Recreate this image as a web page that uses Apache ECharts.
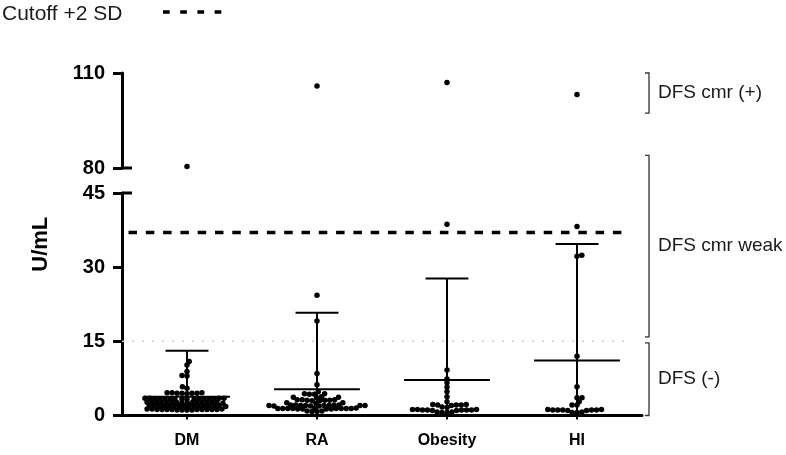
<!DOCTYPE html>
<html><head><meta charset="utf-8">
<script src="https://cdn.jsdelivr.net/npm/echarts@6/dist/echarts.min.js"></script>
<style>html,body{margin:0;padding:0;background:#fff}#c{width:786px;height:455px}</style>
</head><body><div id="c"></div>
<script>
// ---------- data ----------
const categories = ['DM', 'RA', 'Obesity', 'HI'];
const lowerTicks = [0, 15, 30, 45];
const upperTicks = [80, 110];
const dmValues = [80.5, 10.9, 10.2, 8.9, 8.1, 8.0, 5.8, 5.5,
  4.6, 4.5, 4.5, 4.6, 4.4, 4.5, 4.6, 4.5,
  3.4, 3.3, 3.5, 3.4, 3.4, 3.3, 3.5, 3.4, 3.3, 3.4, 3.5, 3.4, 3.3, 3.4, 3.4, 3.5,
  2.6, 2.7, 2.6, 2.5, 2.6, 2.7, 2.6, 2.5, 2.6, 2.6, 2.7, 2.5, 2.6, 2.6, 2.7, 2.6,
  1.9, 1.8, 2.0, 1.9, 1.9, 1.8, 2.0, 1.9, 1.9, 1.8, 1.9, 2.0, 1.9, 1.9, 1.8, 1.9,
  1.2, 1.1, 1.3, 1.2, 1.2, 1.1, 1.2, 1.3, 1.2, 1.2, 1.1, 1.2, 1.3, 1.2, 1.2, 1.1];
const raValues = [105.9, 24.3, 19.1, 8.5, 6.2, 4.8,
  4.4, 4.3, 4.4, 4.3,
  3.7, 3.6, 3.7, 3.8,
  3.1, 3.2, 3.0, 3.1, 3.2, 3.1, 3.0, 3.2,
  2.6, 2.5, 2.6,
  2.0, 2.1, 1.9, 2.0, 2.0, 2.1, 1.9, 2.0, 2.0, 2.1, 1.9, 2.0, 2.0, 2.1,
  1.4, 1.3, 1.4, 1.5, 1.4, 1.3, 1.4, 1.4, 1.5, 1.3, 1.4, 1.4, 1.3, 1.4,
  0.9, 0.8, 0.9, 0.8];
const obesityValues = [107.0, 38.7, 9.2, 7.4, 6.6, 5.7, 4.8, 3.8, 2.8,
  2.1, 2.2, 2.1, 2.0, 2.2, 2.1,
  1.7, 1.6,
  1.1, 1.2, 1.1, 1.0, 1.1, 1.2, 1.1, 1.0, 1.1, 1.2,
  0.6, 0.7, 0.6, 0.7];
const hiValues = [103.2, 38.2, 32.4, 32.2, 12.0, 5.8, 3.6, 3.6, 2.8, 2.1, 2.1,
  1.1, 1.2, 1.1, 1.0, 1.1, 1.2, 1.1, 1.0, 1.1,
  0.6, 0.6, 0.7];
const groupValues = [dmValues, raValues, obesityValues, hiValues];
const medians = [3.8, 5.3, 7.2, 11.1];
const rangeMin = [0.6, 0.6, 0.5, 0.5];
const rangeMax = [13.1, 20.8, 27.7, 34.7];
const cutoffValue = 37;
const dfsNegLimit = 15;
const breakLow = 45;
const breakHigh = 80;
const legendLabel = 'Cutoff +2 SD';
const yAxisName = 'U/mL';
const bracketLabels = ['DFS cmr (+)', 'DFS cmr weak', 'DFS (-)'];
const bracketTop = [[0, 110], [0, 84], [1, 14.7]];     // [panel (0 upper, 1 lower), value]
const bracketBottom = [[0, 97.3], [1, 15.9], [1, 0]];

// ---------- chart ----------
const FONT = '"Liberation Sans", Arial, sans-serif';
const chart = echarts.init(document.getElementById('c'), null, {renderer: 'canvas', width: 786, height: 455});
const axisColor = '#000';
const yAxisCommon = {
  axisLine: {show: true, onZero: false, lineStyle: {color: axisColor, width: 3}},
  splitLine: {show: false},
  axisLabel: {color: '#000', fontFamily: FONT, fontWeight: 'bold', fontSize: 20, margin: 17}
};
const baseOption = {
  animation: false,
  grid: [
    {left: 122, right: 144, top: 73, height: 95},
    {left: 122, right: 144, top: 193, height: 222.5}
  ],
  xAxis: [
    {type: 'value', gridIndex: 0, min: -0.5, max: 3.5, show: false},
    {type: 'value', gridIndex: 1, min: -0.5, max: 3.5, show: false},
    {type: 'category', gridIndex: 1, data: categories, position: 'bottom',
      axisLine: {show: true, onZero: false, lineStyle: {color: axisColor, width: 3}},
      axisTick: {show: true, alignWithLabel: true, length: 4, lineStyle: {color: axisColor, width: 2}},
      axisLabel: {color: '#000', fontFamily: FONT, fontWeight: 'bold', fontSize: 16, margin: 17},
      splitLine: {show: false}}
  ],
  yAxis: [
    Object.assign({}, yAxisCommon, {type: 'value', gridIndex: 0, min: 80, max: 110, position: 'left',
      axisTick: {show: true, length: 9, customValues: upperTicks, lineStyle: {color: axisColor, width: 3}},
      axisLabel: Object.assign({}, yAxisCommon.axisLabel, {customValues: upperTicks})}),
    Object.assign({}, yAxisCommon, {type: 'value', gridIndex: 1, min: 0, max: 45, interval: 15, position: 'left',
      axisTick: {show: true, length: 9, lineStyle: {color: axisColor, width: 3}}})
  ],
  series: []
};
chart.setOption(baseOption);

const lowFinder = {xAxisIndex: 1, yAxisIndex: 1};
const upFinder = {xAxisIndex: 0, yAxisIndex: 0};
const xUnit = chart.convertToPixel(lowFinder, [1, 0])[0] - chart.convertToPixel(lowFinder, [0, 0])[0];

// deterministic beeswarm layout in pixel space (rows squashed vertically by k)
function swarmOffsets(pys, d, k) {
  const order = pys.map((y, i) => i).sort((a, b) => pys[b] - pys[a]);
  const placed = [];
  const out = new Array(pys.length).fill(0);
  order.forEach((i, n) => {
    const y = pys[i];
    const cands = [0];
    placed.forEach(p => {
      const dy = (y - p.y) * k;
      if (Math.abs(dy) < d) {
        const dx = Math.sqrt(d * d - dy * dy);
        cands.push(p.x + dx, p.x - dx);
      }
    });
    const pref = n % 2 === 0 ? 1 : -1;
    cands.sort((a, b) => (Math.abs(a) - Math.abs(b)) || (pref * (b - a)));
    let chosen = 0;
    for (const c of cands) {
      let ok = true;
      for (const p of placed) {
        const dx = c - p.x, dy = (y - p.y) * k;
        if (dx * dx + dy * dy < d * d - 0.01) { ok = false; break; }
      }
      if (ok) { chosen = c; break; }
    }
    placed.push({x: chosen, y});
    out[i] = chosen;
  });
  return out;
}

const lowerData = [], upperData = [];
groupValues.forEach((vals, gi) => {
  const low = vals.filter(v => v <= breakLow);
  const high = vals.filter(v => v > breakLow);
  const pys = low.map(v => chart.convertToPixel(lowFinder, [gi, v])[1]);
  const offs = swarmOffsets(pys, 5.0, 1.3);
  low.forEach((v, j) => lowerData.push([gi + offs[j] / xUnit, v]));
  high.forEach(v => upperData.push([gi, v]));
});

const barData = categories.map((c, i) => [i, medians[i], rangeMin[i], rangeMax[i]]);
const lineEnd = 3.385;

const pxY = (panel, v) => chart.convertToPixel(panel === 0 ? upFinder : lowFinder, [0, v])[1];
const axisXPx = chart.convertToPixel(lowFinder, [-0.5, 0])[0];
const gridRightPx = chart.convertToPixel(lowFinder, [3.5, 0])[0];
const bx = gridRightPx + 7;
const graphics = [];
// axis-break marks (inner half of the tick at 80 and 45)
[[0, breakHigh], [1, breakLow]].forEach(([panel, v]) => {
  const y = pxY(panel, v);
  graphics.push({type: 'line', shape: {x1: axisXPx, y1: y, x2: axisXPx + 10, y2: y},
    style: {stroke: axisColor, lineWidth: 3}});
});
bracketLabels.forEach((lab, i) => {
  const y1 = pxY(bracketTop[i][0], bracketTop[i][1]);
  const y2 = pxY(bracketBottom[i][0], bracketBottom[i][1]);
  graphics.push({type: 'polyline', shape: {points: [[bx - 4, y1], [bx, y1], [bx, y2], [bx - 4, y2]]},
    style: {stroke: '#333', lineWidth: 1.3, fill: null}});
  graphics.push({type: 'text', x: bx + 9, y: (y1 + y2) / 2,
    style: {text: lab, fill: '#1a1a1a', font: '19px ' + FONT, textVerticalAlign: 'middle', textAlign: 'left'}});
});
graphics.push({type: 'text', x: 2, y: 14,
  style: {text: legendLabel, fill: '#1a1a1a', font: '21px ' + FONT, textVerticalAlign: 'middle', textAlign: 'left'}});
graphics.push({type: 'line', shape: {x1: 163, y1: 12, x2: 222, y2: 12},
  style: {stroke: '#000', lineWidth: 3.5, lineDash: [6.7, 10.5]}});
const yTopPx = pxY(0, 110), yBotPx = pxY(1, 0);
graphics.push({type: 'text', x: 41, y: (yTopPx + yBotPx) / 2, rotation: Math.PI / 2,
  style: {text: yAxisName, fill: '#000', font: 'bold 22px ' + FONT, textVerticalAlign: 'middle', textAlign: 'center'}});

chart.setOption({
  graphic: graphics,
  series: [
    {type: 'line', xAxisIndex: 1, yAxisIndex: 1, data: [[-0.5, dfsNegLimit], [lineEnd, dfsNegLimit]], symbol: 'none', silent: true,
      lineStyle: {color: '#c9c9c9', width: 1.5, type: [2, 8]}, z: 1},
    {type: 'line', xAxisIndex: 1, yAxisIndex: 1, data: [[-0.45, cutoffValue], [lineEnd, cutoffValue]], symbol: 'none', silent: true,
      lineStyle: {color: '#000', width: 3.5, type: [8.5, 8.8]}, z: 2},
    {type: 'scatter', xAxisIndex: 1, yAxisIndex: 1, data: lowerData, symbol: 'circle', symbolSize: 5.5,
      itemStyle: {color: '#000', opacity: 1}, z: 3},
    {type: 'scatter', xAxisIndex: 0, yAxisIndex: 0, data: upperData, symbol: 'circle', symbolSize: 5.5,
      itemStyle: {color: '#000', opacity: 1}, z: 3},
    {type: 'custom', xAxisIndex: 1, yAxisIndex: 1, data: barData, encode: {x: 0, y: [1, 2, 3]}, z: 4,
      renderItem: function (params, api) {
        const c = api.value(0);
        const pMed = api.coord([c, api.value(1)]);
        const pLo = api.coord([c, api.value(2)]);
        const pHi = api.coord([c, api.value(3)]);
        const w = api.size([1, 0])[0];
        const mh = w * 0.33, ch = w * 0.165;
        const style = {stroke: '#000', lineWidth: 2};
        return {type: 'group', children: [
          {type: 'line', shape: {x1: pLo[0], y1: pLo[1], x2: pHi[0], y2: pHi[1]}, style: style},
          {type: 'line', shape: {x1: pHi[0] - ch, y1: pHi[1], x2: pHi[0] + ch, y2: pHi[1]}, style: style},
          {type: 'line', shape: {x1: pMed[0] - mh, y1: pMed[1], x2: pMed[0] + mh, y2: pMed[1]}, style: style}
        ]};
      }}
  ]
});
</script></body></html>
